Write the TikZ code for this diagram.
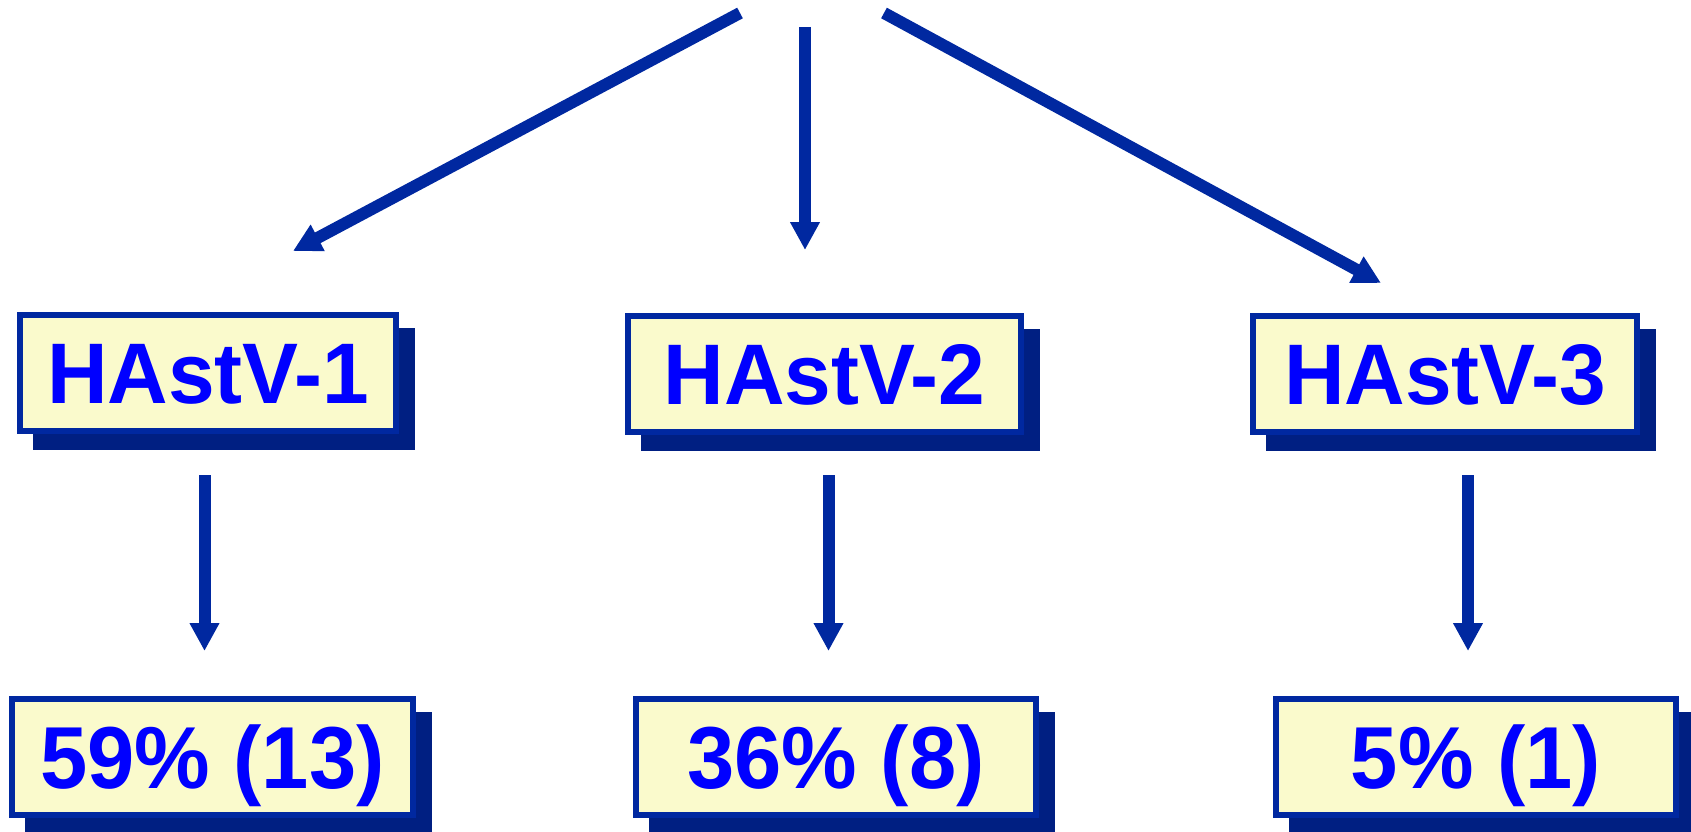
\documentclass[tikz,border=0pt]{standalone}
\usepackage{fontspec}
\usepackage{graphicx}
\setmainfont{Liberation Sans}
\usetikzlibrary{arrows.meta,backgrounds}
\definecolor{edgeblue}{RGB}{0,40,160}
\definecolor{shadeblue}{RGB}{0,31,130}
\definecolor{paleyellow}{RGB}{250,250,204}
\definecolor{labelblue}{RGB}{0,0,255}
% slightly condensed label text
\newcommand{\condensed}[2][0.97]{\scalebox{#1}[1]{#2}}
\begin{document}
\begin{tikzpicture}[x=1pt,y=-1pt,
  box/.style={draw=edgeblue, line width=6pt, fill=paleyellow, inner sep=0pt,
    minimum height=116pt, text=labelblue, text depth=0pt},
  typebox/.style={box, font=\fontsize{86}{90}\selectfont\bfseries, text height=61.6pt},
  sharebox/.style={box, font=\fontsize{88}{92}\selectfont\bfseries, text height=63pt},
  flow/.style={draw=edgeblue, line width=12pt, -{Triangle[width=28pt,length=28pt]}},
  ]
\clip (0,0) rectangle (1691,832);
\useasboundingbox (0,0) rectangle (1691,832);

% virus type boxes
\node[typebox, minimum width=376pt] (t1) at (208,373) {\condensed[0.975]{HAstV-1}};
\node[typebox, minimum width=393pt] (t2) at (824.5,374) {\condensed[0.975]{HAstV-2}};
\node[typebox, minimum width=384pt] (t3) at (1445,374) {\condensed[0.975]{HAstV-3}};

% share boxes
\node[sharebox, minimum width=401pt, yshift=-2pt] (b1) at (212.5,755) {\condensed[0.965]{59\% (13)}};
\node[sharebox, minimum width=400pt, yshift=-2pt] (b2) at (836,755) {\condensed[0.965]{36\% (8)}};
\node[sharebox, minimum width=400pt, yshift=-2pt] (b3) at (1476,755) {\condensed[0.965]{5\% (1)}};

% drop shadows
\begin{scope}[on background layer]
  \foreach \n in {t1,t2,t3,b1,b2,b3}
    \fill[shadeblue] ([shift={(16pt,-16pt)}]\n.north west) rectangle ([shift={(16pt,-16pt)}]\n.south east);
\end{scope}

% arrow end points
\coordinate (s1) at (740,13);   \coordinate (e1) at (293,251);
\coordinate (s2) at (805,27);   \coordinate (e2) at (805,250);
\coordinate (s3) at (884,13);   \coordinate (e3) at (1381,283);
\coordinate (u1) at (204.5,475); \coordinate (v1) at (204.5,651);
\coordinate (u2) at (828.5,475); \coordinate (v2) at (828.5,651);
\coordinate (u3) at (1468,475);  \coordinate (v3) at (1468,651);

\draw[flow] (s1) -- (e1);
\draw[flow] (s2) -- (e2);
\draw[flow] (s3) -- (e3);
\draw[flow] (u1) -- (v1);
\draw[flow] (u2) -- (v2);
\draw[flow] (u3) -- (v3);
\end{tikzpicture}
\end{document}
